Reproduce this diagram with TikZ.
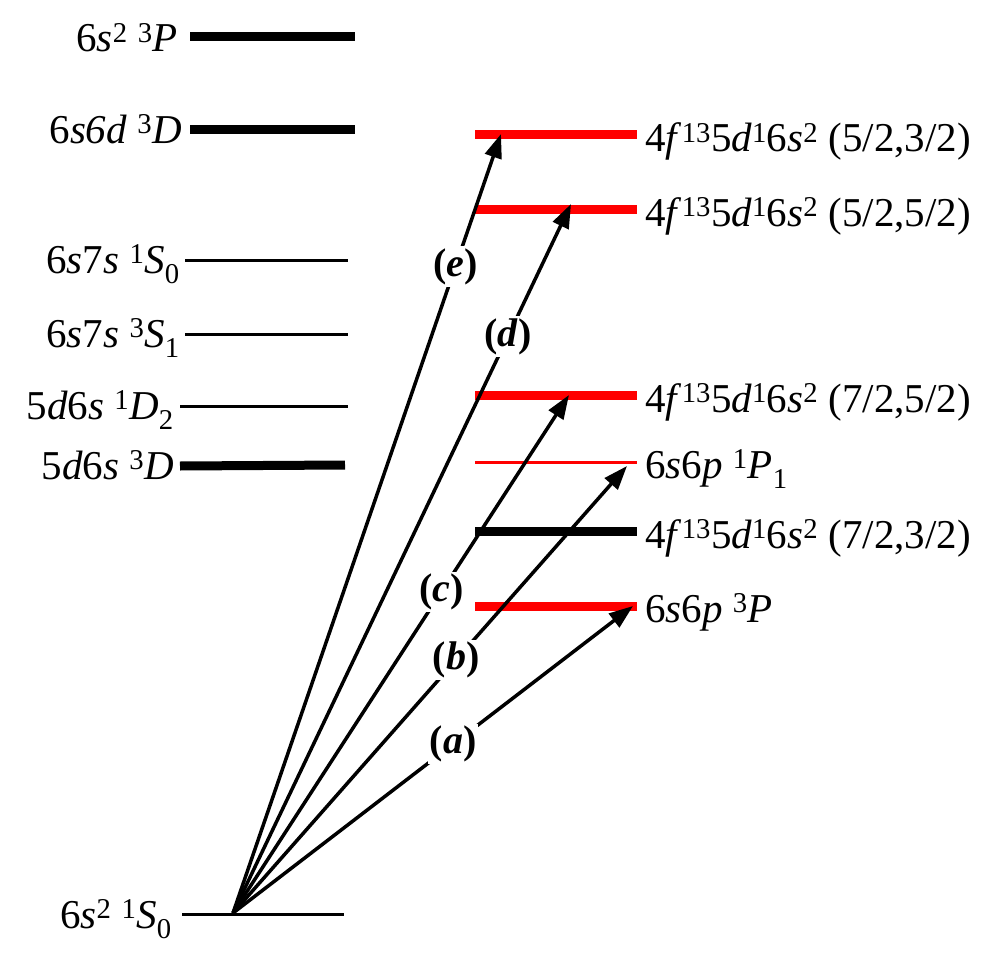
\documentclass[tikz,border=0pt]{standalone}
\usepackage{fontspec}
\setmainfont{Liberation Serif}
\usetikzlibrary{arrows.meta}
\begin{document}
\begin{tikzpicture}[x=1pt,y=-1pt,
  thick/.style={line width=9pt},
  thin/.style={line width=3pt},
  red level/.style={draw=red},
  lbl/.style={font=\fontsize{41}{48}\selectfont, inner sep=0pt},
  llbl/.style={lbl, anchor=base east},
  rlbl/.style={lbl, anchor=base west},
  trans/.style={line width=3.5pt, -{Triangle[length=24pt,width=17pt]}},
  tlab/.style={font=\fontsize{40}{48}\selectfont\bfseries, fill=white, inner sep=2pt}
]
\useasboundingbox (0,0) rectangle (996,963);
% left levels
\draw[thick] (190,37) -- (355,37);
\node[llbl] (l1) at (178,52) {6\textit{s}\textsuperscript{2} \textsuperscript{3}\textit{P}};
\draw[thick] (190,130) -- (355,130);
\node[llbl] (l2) at (182,143) {6\textit{s6d} \textsuperscript{3}\textit{D}};
\draw[thin] (185,260) -- (348,260);
\node[llbl] (l3) at (180,273) {6\textit{s}7\textit{s} \textsuperscript{1}\textit{S}\textsubscript{0}};
\draw[thin] (185,334) -- (348,334);
\node[llbl] (l4) at (180,347) {6\textit{s}7\textit{s} \textsuperscript{3}\textit{S}\textsubscript{1}};
\draw[thin] (180,406) -- (348,406);
\node[llbl] (l5) at (174,419) {5\textit{d}6\textit{s} \textsuperscript{1}\textit{D}\textsubscript{2}};
\draw[thick] (180,466) -- (345,465);
\node[llbl] (l6) at (174,479) {5\textit{d}6\textit{s} \textsuperscript{3}\textit{D}};
\draw[thin] (182,914) -- (344,914);
\node[llbl] (l7) at (172,928) {6\textit{s}\textsuperscript{2} \textsuperscript{1}\textit{S}\textsubscript{0}};
% right levels
\draw[thick,red level] (475,135) -- (637,135);
\node[rlbl] (r1) at (645,152) {4\textit{f}\textsuperscript{13}5\textit{d}\textsuperscript{1}6\textit{s}\textsuperscript{2} (5/2,3/2)};
\draw[thick,red level] (475,209) -- (637,209);
\node[rlbl] (r2) at (645,226) {4\textit{f}\textsuperscript{13}5\textit{d}\textsuperscript{1}6\textit{s}\textsuperscript{2} (5/2,5/2)};
\draw[thick,red level] (475,395) -- (637,395);
\node[rlbl] (r3) at (645,412) {4\textit{f}\textsuperscript{13}5\textit{d}\textsuperscript{1}6\textit{s}\textsuperscript{2} (7/2,5/2)};
\draw[thin,red level] (475,462) -- (637,462);
\node[rlbl] (r4) at (645,478) {6\textit{s}6\textit{p} \textsuperscript{1}\textit{P}\textsubscript{1}};
\draw[thick] (475,531) -- (637,531);
\node[rlbl] (r5) at (645,548) {4\textit{f}\textsuperscript{13}5\textit{d}\textsuperscript{1}6\textit{s}\textsuperscript{2} (7/2,3/2)};
\draw[thick,red level] (475,606) -- (637,606);
\node[rlbl] (r6) at (645,622) {6\textit{s}6\textit{p} \textsuperscript{3}\textit{P}};
% transitions
\coordinate (g) at (233,913);
\coordinate (te) at (501,134);
\coordinate (td) at (571,204);
\coordinate (tc) at (569,395);
\coordinate (tb) at (627,466);
\coordinate (ta) at (633,606);
\draw[trans] (g) -- node[tlab,pos=0.83] (le) {(\textit{e})} (te);
\draw[trans] (g) -- node[tlab,pos=0.813] (ld) {(\textit{d})} (td);
\draw[trans] (g) -- node[tlab,pos=0.62] (lc) {(\textit{c})} (tc);
\draw[trans] (g) -- node[tlab,pos=0.566] (lb) {(\textit{b})} (tb);
\draw[trans] (g) -- node[tlab,pos=0.55] (la) {(\textit{a})} (ta);
\end{tikzpicture}
\end{document}
